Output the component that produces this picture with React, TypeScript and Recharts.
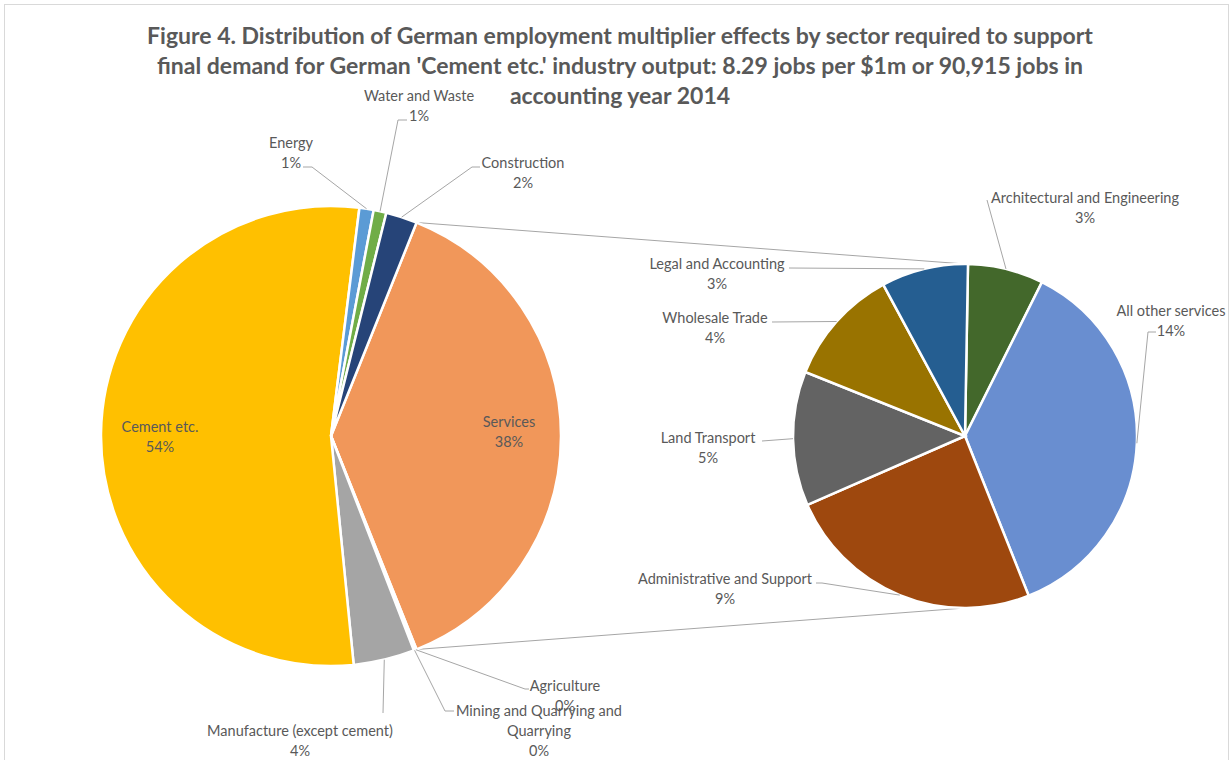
import React from 'react';
import { PieChart, Pie, Cell } from 'recharts';

// left pie (share of total jobs, %), clockwise from the top edge of Services
const LEFT_NAMES = [
  'Services',
  'Agriculture',
  'Mining and Quarrying and Quarrying',
  'Manufacture (except cement)',
  'Cement etc.',
  'Energy',
  'Water and Waste',
  'Construction',
];
const LEFT_VALUES = [37.9, 0.1, 0.1, 4.3, 53.6, 1.0, 0.9, 2.2];
const LEFT_COLORS = ['#F1975A', '#4472C4', '#ED7D31', '#A5A5A5', '#FFC000', '#5B9BD5', '#70AD47', '#264478'];

// right pie = breakdown of Services (share of total jobs, %)
const RIGHT_NAMES = [
  'Architectural and Engineering',
  'All other services',
  'Administrative and Support',
  'Land Transport',
  'Wholesale Trade',
  'Legal and Accounting',
];
const RIGHT_VALUES = [2.7, 13.9, 9.3, 4.8, 4.2, 3.1];
const RIGHT_COLORS = ['#43682B', '#698ED0', '#9E480E', '#636363', '#997300', '#255E91'];

const TITLE_LINES = [
  'Figure 4. Distribution of German employment multiplier effects by sector required to support',
  "final demand for German 'Cement etc.' industry output: 8.29 jobs per $1m or 90,915 jobs in",
  'accounting year 2014',
];

const W = 1231;
const H = 760;
const L = { cx: 331, cy: 436, r: 230 };
const R = { cx: 965, cy: 436, r: 172 };
const FONT = 'Lato, "Open Sans", sans-serif';
const TXT = '#595959';
const LEADER = '#A6A6A6';

type Layout = { x: number; y: number; lines?: string[]; path?: number[][] };

const LABELS: Record<string, Layout> = {
  'Services': { x: 509, y: 421 },
  'Cement etc.': { x: 160, y: 426 },
  'Energy': { x: 291, y: 142, path: [[312, 167], [303, 167]] },
  'Water and Waste': { x: 419, y: 95, path: [[398, 120], [407, 120]] },
  'Construction': { x: 523, y: 162, path: [[472, 167], [480, 167]] },
  'Manufacture (except cement)': { x: 300, y: 730, path: [[383, 713]] },
  'Agriculture': { x: 565, y: 685, path: [[525, 689], [529, 689]] },
  'Mining and Quarrying and Quarrying': {
    x: 539, y: 710, lines: ['Mining and Quarrying and', 'Quarrying'], path: [[445, 711], [454, 711]],
  },
  'Architectural and Engineering': { x: 1085, y: 197, path: [[987, 200]] },
  'All other services': { x: 1171, y: 310, path: [[1148, 332], [1156, 332]] },
  'Administrative and Support': { x: 725, y: 578, path: [[822, 583], [816, 583]] },
  'Land Transport': { x: 708, y: 437, path: [[762, 441]] },
  'Wholesale Trade': { x: 715, y: 317, path: [[772, 322]] },
  'Legal and Accounting': { x: 717, y: 263, path: [[789, 268]] },
};

const leftData = LEFT_NAMES.map((name, i) => ({ name, value: LEFT_VALUES[i] }));
const rightData = RIGHT_NAMES.map((name, i) => ({ name, value: RIGHT_VALUES[i] }));

const leftTotal = LEFT_VALUES.reduce((a, b) => a + b, 0);
const servicesHalf = (LEFT_VALUES[0] / leftTotal) * 180; // services centred on 3 o'clock
const RAD = Math.PI / 180;

function renderLabel(props: any) {
  const name = props.name ?? props.payload?.name;
  const lay = LABELS[name];
  if (!lay) return null;
  const { cx, cy, midAngle, outerRadius, value } = props;
  const ex = cx + outerRadius * Math.cos(-midAngle * RAD);
  const ey = cy + outerRadius * Math.sin(-midAngle * RAD);
  const lines = [...(lay.lines ?? [name]), `${Math.round(value)}%`];
  return (
    <g>
      {lay.path && (
        <polyline
          points={[[ex, ey], ...lay.path].map(p => p.join(',')).join(' ')}
          fill="none"
          stroke={LEADER}
          strokeWidth={1}
        />
      )}
      <text x={lay.x} y={lay.y} textAnchor="middle" fill={TXT} fontSize={14.5} fontFamily={FONT}>
        {lines.map((t, i) => (
          <tspan key={i} x={lay.x} y={lay.y + i * 20} dominantBaseline="central">{t}</tspan>
        ))}
      </text>
    </g>
  );
}

export default function App() {
  const a = servicesHalf * RAD;
  const top = { x: L.cx + L.r * Math.cos(a), y: L.cy - L.r * Math.sin(a) };
  const bot = { x: L.cx + L.r * Math.cos(a), y: L.cy + L.r * Math.sin(a) };

  return (
    <div style={{ position: 'relative', width: W, height: H, overflow: 'hidden', background: '#fff' }}>
      <style>{'body{margin:0}'}</style>
      <div style={{
        position: 'absolute', left: 4, top: 4, width: W - 6, height: H + 20,
        border: '1.5px solid #D9D9D9', boxSizing: 'border-box',
      }} />
      <svg width={W} height={H} style={{ position: 'absolute', left: 0, top: 0 }}>
        {TITLE_LINES.map((t, i) => (
          <text
            key={i}
            x={620}
            y={35 + i * 30}
            textAnchor="middle"
            dominantBaseline="central"
            fontFamily={FONT}
            fontWeight={700}
            fontSize={23}
            fill={TXT}
          >
            {t}
          </text>
        ))}
        <line x1={top.x} y1={top.y} x2={R.cx} y2={R.cy - R.r} stroke={LEADER} strokeWidth={1} />
        <line x1={bot.x} y1={bot.y} x2={R.cx} y2={R.cy + R.r} stroke={LEADER} strokeWidth={1} />
      </svg>
      <div style={{ position: 'absolute', left: 0, top: 0 }}>
        <PieChart width={W} height={H} margin={{ top: 0, right: 0, bottom: 0, left: 0 }}>
          <Pie
            data={leftData}
            dataKey="value"
            nameKey="name"
            cx={L.cx}
            cy={L.cy}
            outerRadius={L.r}
            startAngle={servicesHalf}
            endAngle={servicesHalf - 360}
            stroke="#fff"
            strokeWidth={2.5}
            label={renderLabel}
            labelLine={false}
            isAnimationActive={false}
          >
            {leftData.map((d, i) => <Cell key={d.name} fill={LEFT_COLORS[i]} />)}
          </Pie>
          <Pie
            data={rightData}
            dataKey="value"
            nameKey="name"
            cx={R.cx}
            cy={R.cy}
            outerRadius={R.r}
            startAngle={89}
            endAngle={-271}
            stroke="#fff"
            strokeWidth={2.5}
            label={renderLabel}
            labelLine={false}
            isAnimationActive={false}
          >
            {rightData.map((d, i) => <Cell key={d.name} fill={RIGHT_COLORS[i]} />)}
          </Pie>
        </PieChart>
      </div>
    </div>
  );
}
